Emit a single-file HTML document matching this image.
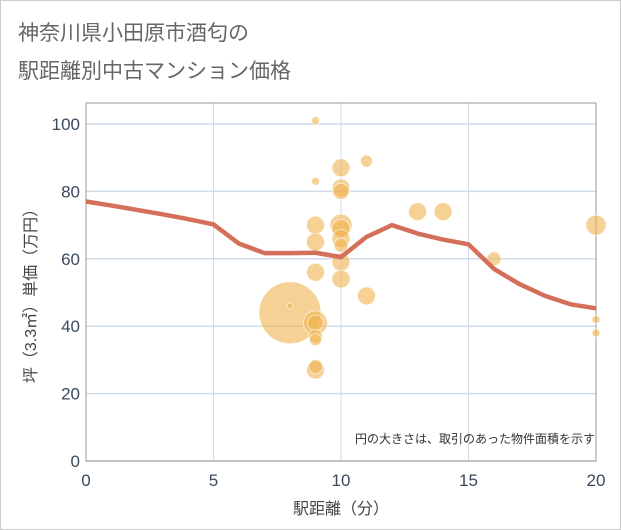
<!DOCTYPE html>
<html><head><meta charset="utf-8"><style>
body{margin:0;background:#fff;}
#c{position:relative;width:621px;height:530px;overflow:hidden;}
svg text{font-family:"Liberation Sans","Noto Sans CJK JP",sans-serif;}
</style></head><body>
<div id="c">
<svg id="s" width="621" height="530" xmlns="http://www.w3.org/2000/svg">
<rect x="0.5" y="0.5" width="620" height="529" fill="#fff" stroke="#ccc"/>
<text x="18" y="40" font-size="21" fill="#666">神奈川県小田原市酒匂の</text>
<text x="18" y="78" font-size="21" fill="#666">駅距離別中古マンション価格</text>
<g id="grid"></g>
<g id="bub"></g>
<g id="ln"></g>
<g id="ax"></g>
<text x="595" y="443" font-size="12" fill="#333" text-anchor="end">円の大きさは、取引のあった物件面積を示す</text>
<text x="341" y="514" font-size="16" fill="#444" text-anchor="middle">駅距離（分）</text>
<text transform="translate(36,292) rotate(-90)" font-size="16" fill="#444" text-anchor="middle">坪（3.3㎡）単価（万円）</text>
</svg></div>
<script>
const xTicks=[0,5,10,15,20];
const yTicks=[0,20,40,60,80,100];
const bubX=[9,10,11,9,10,10,13,14,9,10,10,9,10,10,10,9,10,16,11,8,8,9,9,9,9,9,9,20,20,20];
const bubY=[101,87,89,83,81,80,74,74,70,70,69,65,66,64,59,56,54,60,49,44,46,41,41,37,36,27,28,70,42,38];
const bubR=[4,9,6,4,9,8,9,9,9,11,9,9,9,7,9,9,9,7,9,31,3,12,8,7,6,9,7,10,4,4];
const lineX=[0,1,2,3,4,5,6,7,8,9,10,11,12,13,14,15,16,17,18,19,20];
const lineY=[77,75.8,74.5,73.2,71.8,70.2,64.5,61.7,61.7,61.8,60.5,66.5,70,67.5,65.7,64.3,57,52.5,49,46.5,45.3];
const L=86,R=596,T=103,B=461;
const sx=v=>L+(R-L)*v/20;
const sy=v=>B-(B-124)*v/100;
const NS="http://www.w3.org/2000/svg";
function mk(t,a,p){const e=document.createElementNS(NS,t);for(const k in a)e.setAttribute(k,a[k]);p.appendChild(e);return e;}
const g=document.getElementById('grid');
for(const v of xTicks){
 const l=mk('line',{x1:sx(v),x2:sx(v),y1:T,y2:B,stroke:'#cfdbe8','stroke-width':1},g);
 
 
}
for(const v of yTicks){
 const l=mk('line',{x1:L,x2:R,y1:sy(v),y2:sy(v),stroke:'#cfdbe8','stroke-width':1.5},g);
 
 
}
const fr=mk('rect',{x:L,y:T,width:R-L,height:B-T,fill:'none',stroke:'#999'},g);


const bg=document.getElementById('bub');
for(let i=0;i<bubX.length;i++){
 const c=mk('circle',{cx:sx(bubX[i]),cy:sy(bubY[i]),r:bubR[i],fill:'rgba(240,178,80,0.6)',stroke:'#fff','stroke-opacity':0.6,'stroke-width':1},bg);
 
 
}
const pts=lineX.map((x,i)=>sx(x)+','+sy(lineY[i])).join(' ');
const pl=mk('polyline',{points:pts,fill:'none',stroke:'#d4705a','stroke-width':4.5,'stroke-linejoin':'round'},document.getElementById('ln'));


const ax=document.getElementById('ax');
for(const v of xTicks){
 const t=mk('text',{x:sx(v),y:486,'font-size':17,fill:'#3a4a5c','text-anchor':'middle'},ax);
 t.textContent=v;
 
 
}
for(const v of yTicks){
 const t=mk('text',{x:80,y:sy(v)+6,'font-size':17,fill:'#3a4a5c','text-anchor':'end'},ax);
 t.textContent=v;
 
 
}
</script>
</body></html>
